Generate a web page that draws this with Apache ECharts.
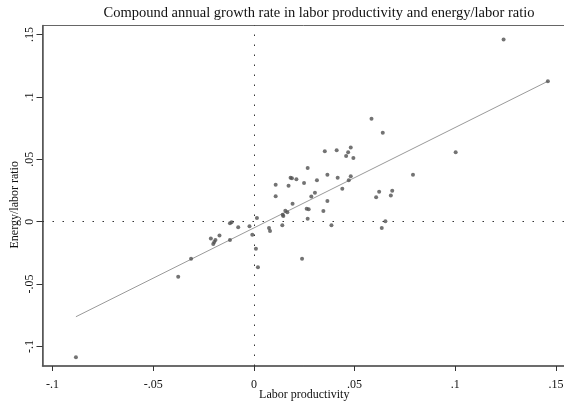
<!DOCTYPE html>
<html>
<head>
<meta charset="utf-8">
<script src="https://cdn.jsdelivr.net/npm/echarts@6/dist/echarts.min.js"></script>
<style>
  html, body { margin: 0; padding: 0; background: #fff; }
  #chart { width: 564px; height: 401px; }
</style>
</head>
<body>
<div id="chart"></div>
<script>
// labor productivity growth (x) and energy/labor ratio growth (y)
var laborX = [0.124, 0.146, 0.0584, 0.064, 0.1002, 0.079, 0.0607, 0.0622, 0.068, 0.0687,
  0.0653, 0.0635, 0.0352, 0.0411, 0.0481, 0.0468, 0.0458, 0.0494, 0.0267, 0.0365,
  0.0416, 0.0481, 0.0471, 0.0439, 0.0182, 0.0189, 0.0211, 0.0249, 0.0313, 0.0172,
  0.0108, 0.0108, 0.0303, 0.0285, 0.0365, 0.0192, 0.0262, 0.0272, 0.0345, 0.0156,
  0.0166, 0.0143, 0.0146, 0.0267, 0.0141, 0.0385, 0.0075, 0.008, 0.0015, -0.0022,
  -0.0008, 0.001, 0.002, 0.0239, -0.0078, -0.0119, -0.0111, -0.0119, -0.0171, -0.0214,
  -0.0191, -0.0197, -0.0202, -0.0312, -0.0376, -0.0884];
var energyY = [0.146, 0.1126, 0.0826, 0.0714, 0.0556, 0.0377, 0.0195, 0.0241, 0.0211, 0.0249,
  0.0003, -0.0051, 0.0564, 0.0572, 0.0594, 0.0556, 0.0527, 0.0511, 0.043, 0.0377,
  0.0353, 0.0364, 0.0332, 0.0265, 0.0353, 0.0348, 0.034, 0.031, 0.0332, 0.0289,
  0.0297, 0.0203, 0.0233, 0.0201, 0.0166, 0.0144, 0.0104, 0.0099, 0.0086, 0.0088,
  0.0075, 0.0056, 0.0045, 0.0024, -0.0029, -0.0029, -0.0051, -0.0075, 0.0029, -0.0037,
  -0.0104, -0.0217, -0.0366, -0.0297, -0.0045, -0.0013, -0.0005, -0.0147, -0.011, -0.0134,
  -0.0147, -0.0163, -0.0179, -0.0297, -0.0441, -0.1086];

// fitted line end points
var fitX = [-0.0884, 0.146];
var fitY = [-0.0762, 0.1126];

var tickValues = [-0.1, -0.05, 0, 0.05, 0.1, 0.15];
var tickLabels = ['-.1', '-.05', '0', '.05', '.1', '.15'];

var serif = 'Liberation Serif';

function tickLabel(v) {
  for (var i = 0; i < tickValues.length; i++) {
    if (Math.abs(tickValues[i] - v) < 1e-9) return tickLabels[i];
  }
  return '';
}

var points = laborX.map(function (x, i) { return [x, energyY[i]]; });
var fitLine = fitX.map(function (x, i) { return [x, fitY[i]]; });

var chart = echarts.init(document.getElementById('chart'));

var dotted = { color: '#333', width: 1, type: [1.5, 8.5] };

chart.setOption({
  animation: false,
  backgroundColor: '#fff',
  title: {
    text: 'Compound annual growth rate in labor productivity and energy/labor ratio',
    left: 314,
    textAlign: 'center',
    top: 1,
    textStyle: { fontFamily: serif, fontSize: 14.5, fontWeight: 'normal', color: '#111' }
  },
  grid: {
    left: 42.5, right: -2, top: 25.5, bottom: 35,
    outerBoundsMode: 'none',
    containLabel: false,
    show: true, borderColor: '#666', borderWidth: 1
  },
  xAxis: {
    type: 'value',
    min: -0.105, max: 0.155,
    name: 'Labor productivity',
    nameLocation: 'middle',
    nameGap: 23,
    nameMoveOverlap: false,
    nameTextStyle: { fontFamily: serif, fontSize: 12, color: '#111', align: 'center' },
    splitLine: { show: false },
    axisLine: { show: true, onZero: false, lineStyle: { color: '#555', width: 1.5 } },
    axisTick: { show: true, length: 5, lineStyle: { color: '#333' }, customValues: tickValues },
    axisLabel: {
      customValues: tickValues, formatter: tickLabel, margin: 13,
      fontFamily: serif, fontSize: 12, color: '#111'
    }
  },
  yAxis: {
    type: 'value',
    min: -0.1157, max: 0.1573,
    name: 'Energy/labor ratio',
    nameLocation: 'middle',
    nameGap: 22,
    nameRotate: 90,
    nameMoveOverlap: false,
    nameTextStyle: { fontFamily: serif, fontSize: 12, color: '#111', padding: [0, 18, 0, 0] },
    splitLine: { show: false },
    axisLine: { show: true, onZero: false, lineStyle: { color: '#555', width: 1.5 } },
    axisTick: { show: true, length: 6, lineStyle: { color: '#333' }, customValues: tickValues },
    axisLabel: {
      customValues: tickValues, formatter: tickLabel, margin: 7, rotate: 90,
      fontFamily: serif, fontSize: 12, color: '#111'
    }
  },
  series: [
    {
      type: 'line',
      data: fitLine,
      symbol: 'none',
      lineStyle: { color: '#9a9a9a', width: 1 },
      silent: true,
      z: 1
    },
    {
      type: 'scatter',
      data: points,
      symbol: 'circle',
      symbolSize: 4,
      itemStyle: { color: '#505050' },
      z: 3,
      markLine: {
        silent: true,
        symbol: 'none',
        label: { show: false },
        lineStyle: dotted,
        data: [{ xAxis: 0 }, { yAxis: 0 }]
      }
    }
  ]
});
</script>
</body>
</html>
